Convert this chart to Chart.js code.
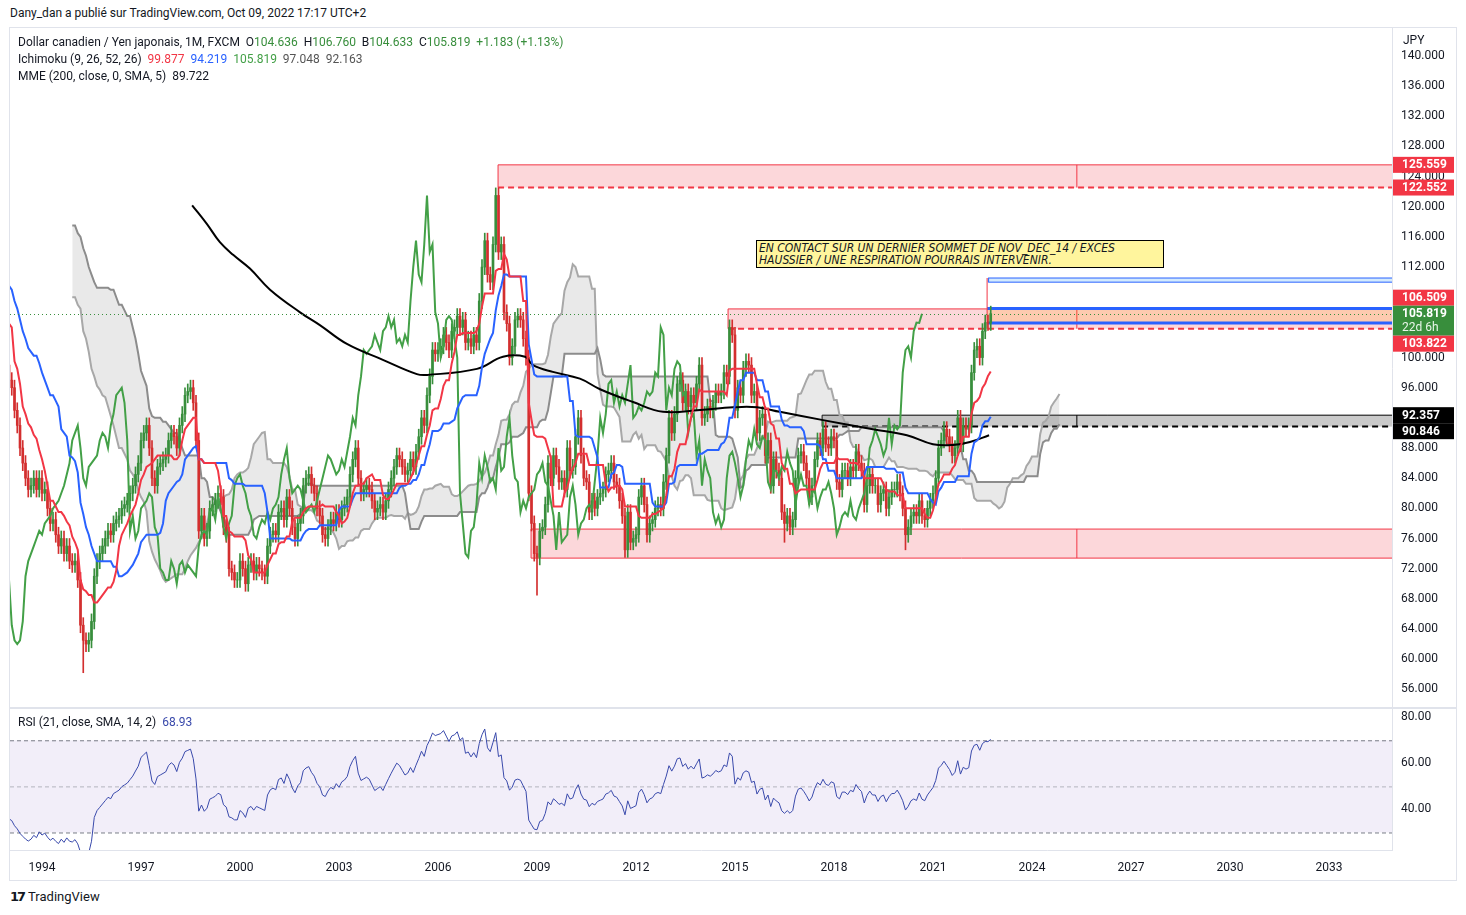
<!DOCTYPE html>
<html>
<head>
<meta charset="utf-8">
<script src="https://cdn.jsdelivr.net/npm/chart.js@4.4.0/dist/chart.umd.min.js"></script>
<style>
  body { margin: 0; background: #fff; width: 1466px; height: 915px; position: relative; overflow: hidden;
         font-family: Roboto, "Liberation Sans", sans-serif; color: #131722; }
  #frame { position: absolute; left: 9px; top: 27px; width: 1446px; height: 852px; border: 1px solid #e0e3eb; }
  #box { position: absolute; left: 10px; top: 28px; width: 1446px; height: 852px; }
  .txt { position: absolute; font-size: 12px; white-space: nowrap; line-height: 14px; }
  .g { color: #388e3c; } .r { color: #f23645; } .b { color: #2962ff; } .cg { color: #43a047; }
  #note { position: absolute; left: 756px; top: 240px; width: 408px; height: 28px; background: #fff59d;
          border: 1px solid #000; font-family: "DejaVu Sans Condensed", "Liberation Sans Narrow", "Liberation Sans", sans-serif;
          font-stretch: condensed; font-style: italic; font-size: 12px; line-height: 12px; padding: 1px 0 0 2px; box-sizing: border-box; color: #131722; }
  #logo { position: absolute; left: 10px; top: 889px; font-size: 13px; }
  #logo b { font-family: "DejaVu Sans", sans-serif; font-weight: 900; letter-spacing: -2px; margin-right: 4px; }
</style>
</head>
<body>
<div class="txt" style="left:10px;top:6px">Dany_dan a publié sur TradingView.com, Oct 09, 2022 17:17 UTC+2</div>
<div id="frame"></div>
<div id="box"><canvas id="chart" width="1446" height="852"></canvas></div>

<div class="txt" style="left:18px;top:35px">Dollar canadien / Yen japonais, 1M, FXCM&nbsp;&nbsp;O<span class="g">104.636</span>&nbsp;&nbsp;H<span class="g">106.760</span>&nbsp;&nbsp;B<span class="g">104.633</span>&nbsp;&nbsp;C<span class="g">105.819</span>&nbsp;&nbsp;<span class="g">+1.183 (+1.13%)</span></div>
<div class="txt" style="left:18px;top:52px">Ichimoku (9, 26, 52, 26)&nbsp;&nbsp;<span class="r">99.877</span>&nbsp;&nbsp;<span class="b">94.219</span>&nbsp;&nbsp;<span class="cg">105.819</span>&nbsp;&nbsp;<span style="color:#555">97.048</span>&nbsp;&nbsp;<span style="color:#555">92.163</span></div>
<div class="txt" style="left:18px;top:69px">MME (200, close, 0, SMA, 5)&nbsp;&nbsp;89.722</div>
<div class="txt" style="left:18px;top:715px">RSI (21, close, SMA, 14, 2)&nbsp;&nbsp;<span style="color:#3949ab">68.93</span></div>
<div class="txt" style="left:1403px;top:33px;background:#fff;padding-bottom:3px">JPY</div>
<div id="note">EN CONTACT SUR UN DERNIER SOMMET DE NOV_DEC_14 / EXCES<br>HAUSSIER / UNE RESPIRATION POURRAIS INTERVENIR.</div>
<div id="logo"><b>17</b>TradingView</div>

<script>
// monthly closes Aug 1988 - Dec 1992, only used to warm up the indicators
const history = [
  109, 108, 104, 102, 104,
  107, 106, 110, 112, 120, 120, 119, 120, 118, 121, 123, 124,
  124, 126, 135, 136, 134, 131, 128, 124, 117, 112, 116, 116,
  115, 118, 122, 118, 121, 120, 119, 118, 118, 116, 114, 112,
  107, 110, 112, 112, 112, 106, 106, 105, 99, 101, 100, 99
];
const historyStart = 1988 + 7 / 12;

// monthly closes Jan 1993 - Oct 2022
const closes = [
  97, 96, 93, 91, 88, 86, 84, 82.5, 83, 84, 82.5, 84,
  82, 82.5, 80, 78, 78.5, 76.5, 75, 76, 74, 75, 73, 72.5,
  73, 70.5, 64.5, 62.5, 62, 62.5, 65, 71, 73, 74, 75, 76,
  77, 76.5, 78, 78.5, 79, 80, 80.5, 81, 82, 83, 84.5, 86,
  89, 90, 91, 88, 84, 83, 85.5, 86, 86.5, 87, 89, 90,
  89.5, 88, 91, 92.5, 95, 95.5, 96, 94, 89, 77, 79, 76,
  77, 80, 80.5, 81, 82, 81.5, 77.5, 76.5, 72, 71.5, 70.5, 70.5,
  73, 72, 70, 72.5, 73, 71.5, 72.5, 72, 71.5, 71, 75, 76.5,
  77, 76.5, 79.5, 80, 78.5, 81.5, 80, 77.5, 76, 78, 79, 83,
  84, 84.5, 83, 82, 80, 79, 76.5, 76, 77.5, 78.5, 78, 79.5,
  78.5, 80, 80.5, 81.5, 84.5, 86.5, 88, 84, 82, 82.5, 83, 82.5,
  81, 79.5, 80, 80.5, 79.5, 81, 82.5, 84, 85.5, 87, 86.5, 85.5,
  84.5, 85, 86.5, 85.5, 87.5, 89.5, 92, 91, 95, 97.5, 101, 100.5,
  101, 101.5, 103, 102, 101, 103.5, 104, 105.5, 104, 105, 102, 102.5,
  101.5, 103, 102, 107.5, 112, 115.5, 111, 110, 115, 121.5, 114, 115,
  106, 104.5, 100, 101.5, 105, 105.5, 105, 102.5, 100, 82, 78, 74,
  73.5, 77, 77.5, 80.5, 86, 84, 87, 85.5, 83.5, 84, 82.5, 88,
  85, 85.5, 89.5, 92, 87, 84, 83.5, 79.5, 81, 80, 81.5, 82,
  82.5, 84.5, 85, 86, 83.5, 83, 81, 79, 74.5, 79.5, 75.5, 76,
  76.5, 81.5, 83, 80.5, 76.5, 78, 78.5, 80, 80.5, 80, 83.5, 87,
  92, 90, 92.5, 96.5, 97, 94, 95.5, 93.5, 95, 94, 96.5, 99,
  92, 92.5, 93.5, 93, 94, 95.5, 95, 95.5, 98, 97.5, 104, 103,
  93, 96, 95, 98.5, 99.5, 99, 95, 95.5, 90, 92, 92.5, 87,
  89, 83, 86.5, 85, 84, 79.5, 78, 79, 77.5, 78.5, 84, 87,
  87.5, 86, 84, 81.5, 83, 86.5, 89, 88, 90.5, 88.5, 88, 89.5,
  89, 83.5, 82.5, 85, 85, 84, 85.5, 85, 87.5, 86, 85, 80.5,
  83, 84.5, 83, 83, 80.5, 82, 82.5, 80, 81.5, 82.5, 82.5, 83.5,
  82, 80, 76.5, 77.5, 79, 79.5, 79, 81, 79, 78.5, 80, 81,
  82, 84, 88, 89, 90.5, 89.5, 88.5, 87, 88, 92, 88.5, 91,
  90.5, 91, 98, 101, 101.5, 100, 103.5, 104.636, 104.6, 105.819
];
// long lower wicks that stand out
const spikeYears = [1995.25, 2009.0, 2020.17, 2016.5];
const spikeLows = [58.2, 68.5, 74.5, 75.5];

// MME 200 (black line)
const emaYears = [1998.55, 1999.0, 1999.39, 1999.8, 2000.30, 2000.91, 2001.82, 2002.42, 2003.24, 2004.33, 2005.36, 2005.67,
  2007.18, 2007.97, 2008.64, 2008.88, 2009.48, 2010.30, 2010.91, 2011.91, 2012.82, 2013.94, 2014.94, 2015.67,
  2016.36, 2017.67, 2019.18, 2020.21, 2021.0, 2021.61, 2022.12, 2022.70];
const emaValues = [120.2, 117.7, 115.3, 113.6, 111.8, 109.0, 106.0, 104.3, 101.8, 99.7, 97.8, 97.7,
  98.5, 100.1, 100.1, 99.0, 98.1, 97.2, 95.8, 94.1, 92.8, 93.05, 93.4, 93.4,
  92.8, 91.7, 90.5, 89.7, 88.5, 88.4, 88.8, 89.7];

// drawn levels
const zoneStart = [2007.82, 2014.79, 2017.64, 2008.82];
const zoneTop = [125.559, 106.45, 92.357, 77.25];
const zoneBottom = [122.552, 103.822, 90.846, 73.4];
const splitYear = 2025.36;
const targetStart = 2022.64;
const targetTop = [110.55, 106.509];
const targetBottom = [110.0, 104.6];
const lastPrice = 105.819;
const rsiLevels = [70, 50, 30];
const tickYears = [1994, 1997, 2000, 2003, 2006, 2009, 2012, 2015, 2018, 2021, 2024, 2027, 2030, 2033];

// ---- build series
const all = history.concat(closes);
const tOf = i => historyStart + i / 12;
const opens = all.map((c, i) => i === 0 ? c : all[i - 1]);
const hi = all.map((c, i) => Math.max(c, opens[i]));
const lo = all.map((c, i) => Math.min(c, opens[i]));
const first = history.length;

function mid(n, i) {
  let h = -Infinity, l = Infinity;
  for (let k = i - n + 1; k <= i; k++) { h = Math.max(h, hi[k]); l = Math.min(l, lo[k]); }
  return (h + l) / 2;
}

const bodies = [], wicks = [], colors = [];
for (let i = first; i < all.length; i++) {
  const t = tOf(i);
  let low = lo[i] - 1, high = hi[i] + 1;
  spikeYears.forEach((s, k) => { if (Math.abs(s - t) < 0.04) low = spikeLows[k]; });
  bodies.push({ x: t, y: [opens[i], all[i]] });
  wicks.push({ x: t, y: [low, high] });
  colors.push(all[i] >= opens[i] ? '#388e3c' : '#d32f2f');
}

const tenkan = [], kijun = [], chikou = [], spanA = [], spanB = [];
const shift = 25 / 12;
for (let i = 0; i < all.length; i++) {
  const t = tOf(i);
  if (i >= 8) tenkan.push({ x: t, y: mid(9, i) });
  if (i >= 25) kijun.push({ x: t, y: mid(26, i) });
  chikou.push({ x: t - shift, y: all[i] });
  if (i >= 51) {
    spanA.push({ x: t + shift, y: (mid(9, i) + mid(26, i)) / 2 });
    spanB.push({ x: t + shift, y: mid(52, i) });
  }
}

// RSI 21 (Wilder)
const rsi = [];
let ag = 0, al = 0;
for (let i = 1; i < all.length; i++) {
  const d = all[i] - all[i - 1];
  const g = Math.max(d, 0), l = Math.max(-d, 0);
  if (i <= 21) { ag += g / 21; al += l / 21; if (i < 21) continue; }
  else { ag = (ag * 20 + g) / 21; al = (al * 20 + l) / 21; }
  if (i >= first) rsi.push({ x: tOf(i), y: al === 0 ? 100 : 100 - 100 / (1 + ag / al) });
}

const ema = emaYears.map((t, i) => ({ x: t, y: emaValues[i] }));

// ---- drawing helpers
const overlay = {
  id: 'overlay',
  beforeDatasetsDraw(chart) {
    const { ctx, chartArea: ca, scales: { x, y, yr } } = chart;
    ctx.save();
    // rsi band
    const p70 = yr.getPixelForValue(rsiLevels[0]), p50 = yr.getPixelForValue(rsiLevels[1]), p30 = yr.getPixelForValue(rsiLevels[2]);
    ctx.fillStyle = 'rgba(126,87,194,0.1)';
    ctx.fillRect(ca.left, p70, ca.width, p30 - p70);
    ctx.setLineDash([4, 3]);
    ctx.lineWidth = 1;
    ctx.strokeStyle = '#787b86';
    [p70, p30].forEach(p => { ctx.beginPath(); ctx.moveTo(ca.left, p + 0.5); ctx.lineTo(ca.right, p + 0.5); ctx.stroke(); });
    ctx.strokeStyle = 'rgba(120,123,134,0.5)';
    ctx.beginPath(); ctx.moveTo(ca.left, p50 + 0.5); ctx.lineTo(ca.right, p50 + 0.5); ctx.stroke();
    ctx.setLineDash([]);

    ctx.beginPath(); ctx.rect(ca.left, y.top, ca.width, y.bottom - y.top); ctx.clip();
    const xs = x.getPixelForValue(splitYear);
    zoneStart.forEach((s, k) => {
      const x0 = x.getPixelForValue(s), yt = y.getPixelForValue(zoneTop[k]), yb = y.getPixelForValue(zoneBottom[k]);
      const grey = k === 2;
      ctx.fillStyle = grey ? 'rgba(150,150,150,0.5)' : 'rgba(242,54,69,0.2)';
      ctx.fillRect(x0, yt, ca.right - x0, yb - yt);
      ctx.strokeStyle = grey ? '#000' : '#f23645';
      ctx.lineWidth = 1;
      ctx.beginPath();
      ctx.moveTo(ca.right, yt); ctx.lineTo(x0, yt); ctx.lineTo(x0, yb);
      if (k === 3) ctx.lineTo(ca.right, yb);
      ctx.moveTo(xs, yt); ctx.lineTo(xs, yb);
      ctx.stroke();
      if (k !== 3) {
        ctx.setLineDash([6, 4]);
        ctx.lineWidth = 2;
        ctx.beginPath(); ctx.moveTo(x0, yb); ctx.lineTo(ca.right, yb); ctx.stroke();
        ctx.setLineDash([]);
      }
    });
    // projection boxes
    const xt = x.getPixelForValue(targetStart);
    const a0 = y.getPixelForValue(targetTop[0]), a1 = y.getPixelForValue(targetBottom[0]);
    ctx.fillStyle = 'rgba(33,150,243,0.2)';
    ctx.fillRect(xt, a0, ca.right - xt, a1 - a0);
    ctx.strokeStyle = '#2962ff'; ctx.lineWidth = 1;
    ctx.strokeRect(xt + 1.5, a0, ca.right - xt, a1 - a0);
    const b0 = y.getPixelForValue(targetTop[1]), b1 = y.getPixelForValue(targetBottom[1]);
    ctx.fillStyle = 'rgba(255,152,0,0.2)';
    ctx.fillRect(xt, b0, ca.right - xt, b1 - b0);
    ctx.strokeStyle = '#2962ff'; ctx.lineWidth = 3;
    ctx.beginPath(); ctx.moveTo(xt, b0); ctx.lineTo(ca.right, b0); ctx.moveTo(xt, b1); ctx.lineTo(ca.right, b1); ctx.stroke();
    ctx.strokeStyle = '#f23645'; ctx.lineWidth = 1;
    ctx.beginPath(); ctx.moveTo(xt, a0); ctx.lineTo(xt, y.getPixelForValue(zoneBottom[1])); ctx.stroke();
    ctx.restore();
  },
  afterDatasetsDraw(chart) {
    const { ctx, chartArea: ca, scales: { y } } = chart;
    const p = Math.round(y.getPixelForValue(lastPrice)) + 0.5;
    ctx.save();
    ctx.strokeStyle = '#388e3c'; ctx.lineWidth = 1; ctx.setLineDash([1, 3]);
    ctx.beginPath(); ctx.moveTo(ca.left, p); ctx.lineTo(ca.right, p); ctx.stroke();
    ctx.restore();
  },
  afterDraw(chart) {
    const { ctx, chartArea: ca, scales: { y } } = chart;
    ctx.save();
    ctx.strokeStyle = '#e0e3eb'; ctx.lineWidth = 2;
    ctx.beginPath(); ctx.moveTo(0, y.bottom); ctx.lineTo(chart.width, y.bottom); ctx.stroke();
    // price tags on the axis, pushed apart around the last price
    const red = '#f23645';
    const tags = [
      { v: zoneTop[0], bg: red }, { v: zoneBottom[0], bg: red }, { v: targetTop[1], bg: red },
      { v: lastPrice, bg: '#388e3c', sub: '22d 6h' }, { v: zoneBottom[1], bg: red },
      { v: zoneTop[2], bg: '#000' }, { v: zoneBottom[2], bg: '#000' }
    ];
    const a = tags.findIndex(t => t.sub);
    tags.forEach(t => { t.c = y.getPixelForValue(t.v); });
    let top = tags[a].c - 8;
    for (let k = a - 1; k >= 0; k--) { tags[k].c = Math.min(tags[k].c, top - 8); top = tags[k].c - 8; }
    let bot = tags[a].c + 22;
    for (let k = a + 1; k < tags.length; k++) { tags[k].c = Math.max(tags[k].c, bot + 8); bot = tags[k].c + 8; }
    const x0 = ca.right + 1, w = 61;
    ctx.textBaseline = 'middle';
    tags.forEach(t => {
      const h = t.sub ? 30 : 16;
      ctx.fillStyle = t.bg;
      ctx.fillRect(x0, t.c - 8, w, h);
      ctx.fillStyle = '#fff';
      ctx.font = 'bold 12px Roboto, sans-serif';
      ctx.fillText(t.v.toFixed(3), x0 + 9, t.c + 0.5);
      if (t.sub) { ctx.font = '12px Roboto, sans-serif'; ctx.fillStyle = '#e8f5e9'; ctx.fillText(t.sub, x0 + 9, t.c + 14.5); }
    });
    ctx.restore();
  }
};

const line = (data, color, width, order, extra) => Object.assign({
  type: 'line', data, borderColor: color, borderWidth: width, pointRadius: 0, fill: false,
  tension: 0, order, yAxisID: 'y'
}, extra || {});

const noPad = s => { s.paddingLeft = 0; s.paddingRight = 0; s.paddingTop = 0; s.paddingBottom = 0; };

new Chart(document.getElementById('chart'), {
  type: 'bar',
  data: {
    datasets: [
      line(spanA, '#a8a8a8', 2, 20, { fill: '+1', backgroundColor: 'rgba(120,120,120,0.16)' }),
      line(spanB, '#8c8c8c', 2, 19),
      { data: wicks, backgroundColor: colors, barThickness: 1, grouped: false, order: 10, yAxisID: 'y' },
      { data: bodies, backgroundColor: colors, barThickness: 2, grouped: false, order: 9, yAxisID: 'y' },
      line(chikou, '#43a047', 2, 4),
      line(ema, '#000000', 2, 3, { tension: 0.4 }),
      line(kijun, '#2962ff', 2, 2),
      line(tenkan, '#f23645', 2, 1),
      { type: 'line', data: rsi, borderColor: '#3949ab', borderWidth: 1, pointRadius: 0, yAxisID: 'yr', order: 1 }
    ]
  },
  options: {
    responsive: false,
    animation: false,
    events: [],
    layout: { padding: 0 },
    plugins: { legend: { display: false }, tooltip: { enabled: false } },
    scales: {
      x: {
        type: 'linear', min: 1993.03, max: 2034.91, offset: false,
        grid: { display: false, offset: false },
        border: { display: true, color: '#e0e3eb' },
        afterBuildTicks: s => { s.ticks = tickYears.map(v => ({ value: v })); },
        afterFit: s => { s.height = 30; noPad(s); },
        ticks: { autoSkip: false, maxRotation: 0, padding: 3, color: '#131722', font: { family: 'Roboto', size: 12 },
                 callback: v => String(v) }
      },
      y: {
        type: 'linear', position: 'right', stack: 'panes', stackWeight: 680,
        min: 53.52, max: 143.71,
        grid: { display: false, drawTicks: false },
        border: { display: true, color: '#e0e3eb' },
        afterFit: s => { s.width = 64; noPad(s); },
        ticks: { stepSize: 4, includeBounds: false, maxTicksLimit: 40, autoSkip: false, padding: 9, color: '#131722',
                 font: { family: 'Roboto', size: 12 }, callback: v => v.toFixed(3) }
      },
      yr: {
        type: 'linear', position: 'right', stack: 'panes', stackWeight: 142,
        min: 22.4, max: 84,
        grid: { display: false, drawTicks: false },
        border: { display: true, color: '#e0e3eb' },
        afterFit: s => { s.width = 64; noPad(s); },
        ticks: { stepSize: 20, includeBounds: false, autoSkip: false, padding: 9, color: '#131722',
                 font: { family: 'Roboto', size: 12 }, callback: v => v.toFixed(2) }
      }
    }
  },
  plugins: [overlay]
});
</script>
</body>
</html>
